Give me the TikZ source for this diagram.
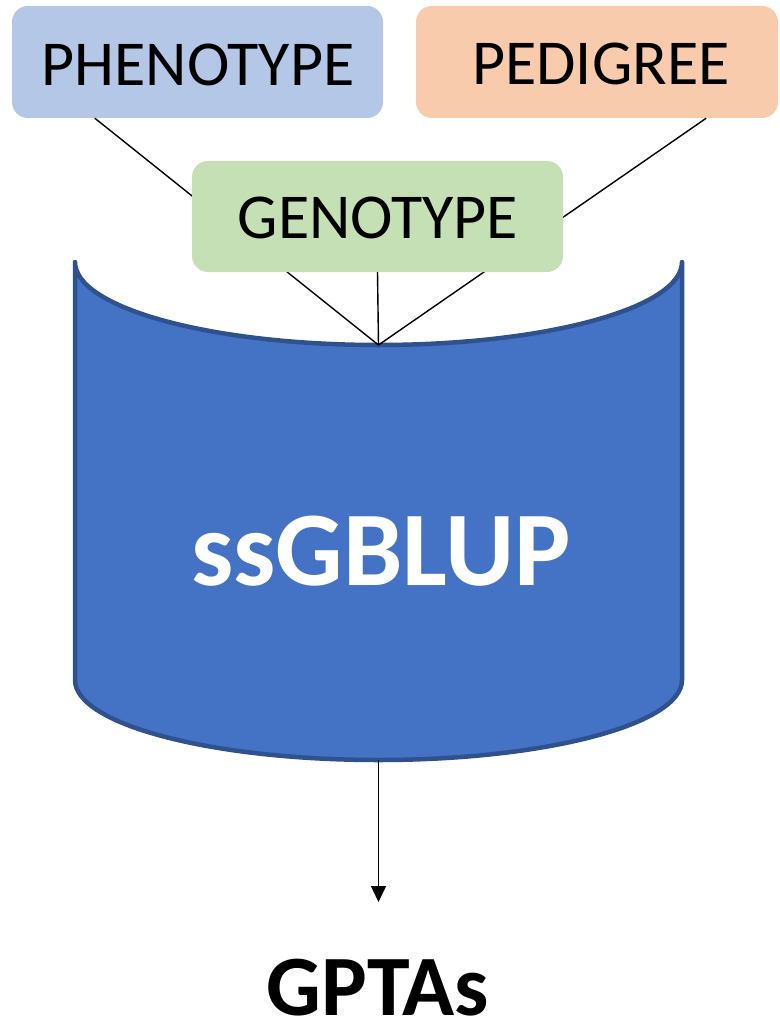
\documentclass[tikz,border=0pt]{standalone}
\usepackage{fontspec}
\setmainfont{Carlito}
\usetikzlibrary{arrows.meta}
\definecolor{phenofill}{HTML}{B4C7E7}
\definecolor{pedfill}{HTML}{F8CBAD}
\definecolor{genofill}{HTML}{C5E0B4}
\definecolor{cylfill}{HTML}{4472C4}
\definecolor{cyledge}{HTML}{2F528F}
\begin{document}
\begin{tikzpicture}[x=1pt,y=-1pt,
  inbox/.style={rounded corners=16pt, inner sep=0pt},
  inlabel/.style={inner sep=0pt, text=black, font=\fontsize{64}{70}\selectfont},
  link/.style={draw=black, line width=1.4pt},
  flow/.style={draw=black, line width=1.4pt, -{Triangle[length=16pt,width=15pt]}}]
\useasboundingbox (0,0) rectangle (779,1022);

% the ssGBLUP vessel: concave top, straight sides, rounded bottom
\coordinate (hub) at (378.5,345);
\coordinate (base) at (378.5,760);
\coordinate (tip) at (378.5,902);
\draw[fill=cylfill, draw=cyledge, line width=4.5pt, line join=round, line cap=round]
  (75,262) arc[start angle=180, end angle=360, x radius=303.5pt, y radius=83pt]
  -- (682,680) arc[start angle=0, end angle=-180, x radius=303.5pt, y radius=80pt]
  -- cycle;
\node[inner sep=0pt, anchor=base, text=white, font=\fontsize{106}{110}\selectfont\bfseries] (model) at (381,585) {ssGBLUP};

% data sources
\node[inbox, fill=phenofill, minimum width=371pt, minimum height=112pt] (pheno) at (197.5,62) {};
\node[inlabel, anchor=base] (phenotext) at (198,86) {PHENOTYPE};
\node[inbox, fill=pedfill, minimum width=362pt, minimum height=112pt] (pedi) at (597,62) {};
\node[inlabel, anchor=base] (peditext) at (601,85) {PEDIGREE};

% connectors into the vessel (drawn beneath the genotype box)
\draw[link] ([xshift=83pt]pheno.south west) -- (hub);
\draw[link] ([xshift=-72pt]pedi.south east) -- (hub);

\node[inbox, fill=genofill, minimum width=371pt, minimum height=111pt] (geno) at (377.5,216.5) {};
\node[inlabel, anchor=base] (genotext) at (378,238) {GENOTYPE};
\draw[link] (geno.south) -- (hub);

% output
\draw[flow] (base) -- (tip);
\node[inner sep=0pt, anchor=base, font=\fontsize{86}{90}\selectfont\bfseries] (out) at (378,1015) {GPTAs};
\end{tikzpicture}
\end{document}
